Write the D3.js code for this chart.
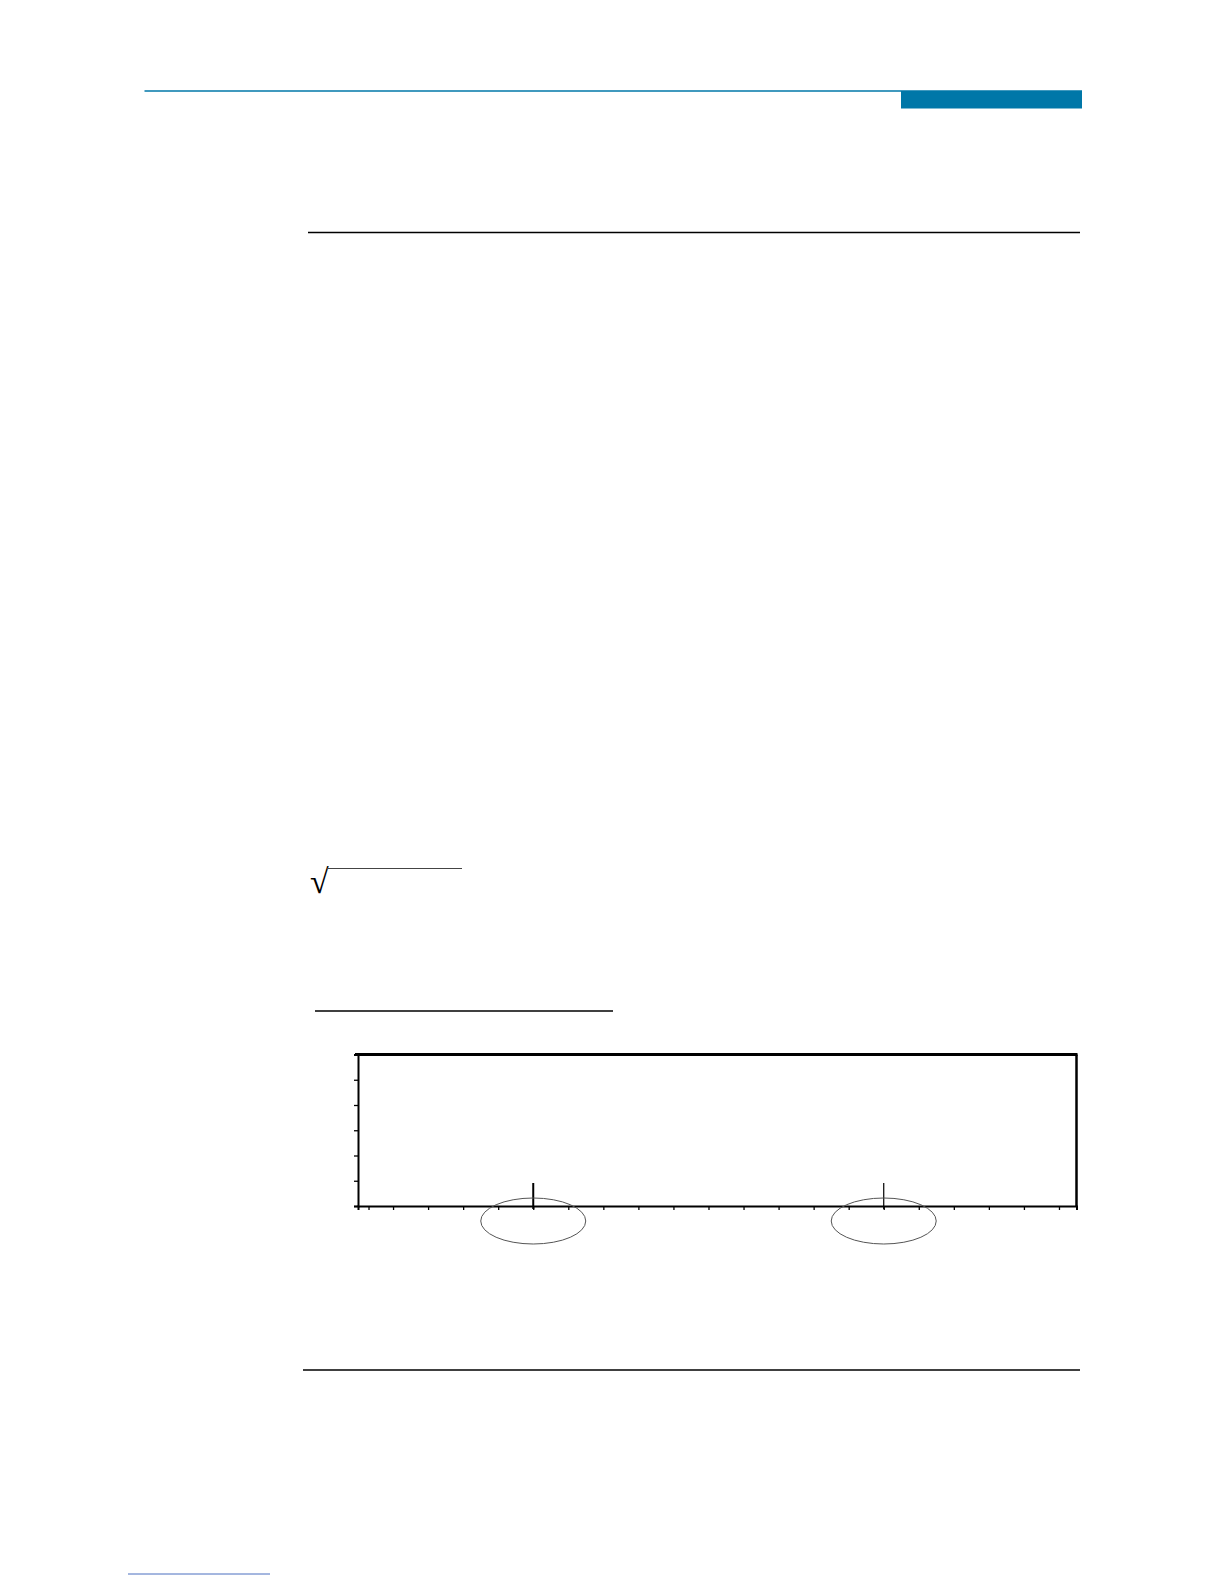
<!DOCTYPE html>
<html>
<head>
<meta charset="utf-8">
<script src="https://cdn.jsdelivr.net/npm/d3@7"></script>
<style>
  body { margin: 0; background: #fff; }
  svg { display: block; font-family: "Liberation Serif", serif; }
</style>
</head>
<body>
<div id="container"></div>
<script>
// chart values
const xTicks = d3.range(1, 21);
const xExtraTicks = [0.3];
const yTicks = [0, 1, 2, 3, 4, 5, 6];
const markers = [5, 15];
const markerWidths = [2, 1.2];

const BLUE = "#0077a8";

let svg = d3.select("#container").append("svg")
  .attr("width", 1224)
  .attr("height", 1584);

// page header
svg.append("line")
  .attr("x1", 144.5).attr("x2", 1082).attr("y1", 91).attr("y2", 91)
  .attr("stroke", BLUE).attr("stroke-width", 1.5);
svg.append("rect")
  .attr("x", 901).attr("y", 91).attr("width", 181).attr("height", 17.5)
  .attr("fill", BLUE);

// rules
function rule(x1, x2, y, w) {
  svg.append("line")
    .attr("x1", x1).attr("x2", x2).attr("y1", y).attr("y2", y)
    .attr("stroke", "#000").attr("stroke-width", w);
}
rule(308, 1080, 232.5, 1.3);
rule(315, 613, 1011, 1.6);
rule(303, 1080, 1370, 1.5);

// square root sign
svg.append("text")
  .attr("x", 310).attr("y", 893)
  .attr("font-size", 34)
  .text("√");
svg.append("line")
  .attr("x1", 327).attr("x2", 462).attr("y1", 868.5).attr("y2", 868.5)
  .attr("stroke", "#444").attr("stroke-width", 1);

// chart
let x = d3.scaleLinear().domain([0, 20.5]).range([358, 1076.5]);
let y = d3.scaleLinear().domain([0, 6]).range([1206, 1054.5]);

let plot = svg.append("g");

plot.append("g")
  .attr("transform", `translate(0,${y(0)})`)
  .call(d3.axisBottom(x).tickValues(xTicks.concat(xExtraTicks)).tickSize(4).tickFormat(""))
  .call((g) => g.select(".domain").attr("stroke-width", 2))
  .call((g) => g.selectAll(".tick line").attr("stroke-width", 1.3));

plot.append("g")
  .attr("transform", `translate(${x(0)},0)`)
  .call(d3.axisLeft(y).tickValues(yTicks).tickSize(4).tickFormat(""))
  .call((g) => g.select(".domain").attr("stroke-width", 2))
  .call((g) => g.selectAll(".tick line").attr("stroke-width", 1.3));

// frame top and right
plot.append("line")
  .attr("x1", x(0) - 3).attr("x2", x(20.5) + 1)
  .attr("y1", y(6)).attr("y2", y(6))
  .attr("stroke", "#000").attr("stroke-width", 3);
plot.append("line")
  .attr("x1", x(20.5)).attr("x2", x(20.5))
  .attr("y1", y(6)).attr("y2", y(0))
  .attr("stroke", "#000").attr("stroke-width", 2.5);

// markers and ellipses
plot.selectAll(".marker").data(markers).join("line")
  .attr("class", "marker")
  .attr("x1", (d) => x(d)).attr("x2", (d) => x(d))
  .attr("y1", 1183).attr("y2", 1209)
  .attr("stroke", "#000")
  .attr("stroke-width", (d, i) => markerWidths[i]);

plot.selectAll(".ring").data(markers).join("ellipse")
  .attr("class", "ring")
  .attr("cx", (d) => x(d)).attr("cy", 1221)
  .attr("rx", 52.5).attr("ry", 23)
  .attr("fill", "none")
  .attr("stroke", "#555").attr("stroke-width", 1);

// footer link underline
svg.append("line")
  .attr("x1", 128).attr("x2", 270).attr("y1", 1574).attr("y2", 1574)
  .attr("stroke", "#4a6fc0").attr("stroke-width", 1);
</script>
</body>
</html>
